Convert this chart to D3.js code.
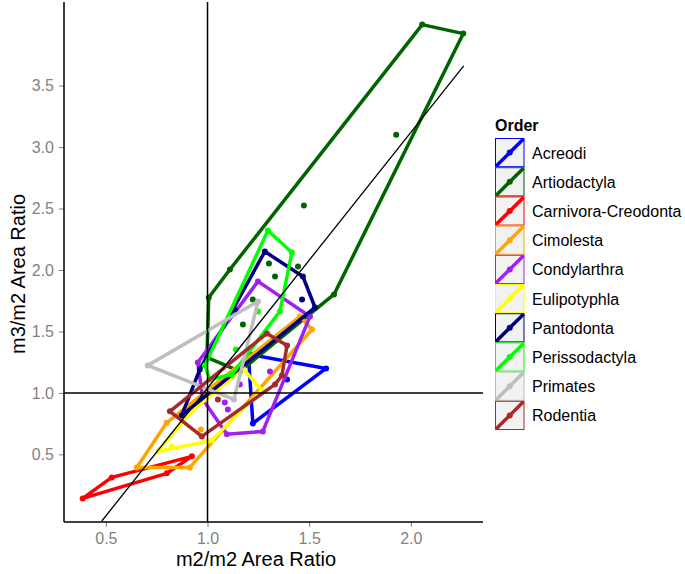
<!DOCTYPE html>
<html>
<head>
<meta charset="utf-8">
<script src="https://cdnjs.cloudflare.com/ajax/libs/d3/7.8.5/d3.min.js"></script>
<style>
  body { margin: 0; background: #fff; }
  svg { font-family: "Liberation Sans", Arial, sans-serif; }
  .tick text { fill: #828282; font-size: 16px; }
  .tick line { stroke: #828282; }
</style>
</head>
<body>
<div id="graf"></div>
<script>
// Data
const orders = ["Acreodi", "Artiodactyla", "Carnivora-Creodonta", "Cimolesta", "Condylarthra",
  "Eulipotyphla", "Pantodonta", "Perissodactyla", "Primates", "Rodentia"]
const colores = ["#0000ff", "#006400", "#ff0000", "#ffa500", "#a020f0",
  "#ffff00", "#000080", "#00ff00", "#bebebe", "#a52a2a"]

// m2/m2 (x), m3/m2 (y) per order
const acreodi = [[1.208, 1.313], [1.583, 1.199], [1.223, 0.752], [1.203, 1.256], [1.391, 1.110]]
const artiodactyla = [[0.997, 1.289], [1.006, 1.776], [1.110, 2.004], [2.056, 3.996], [2.258, 3.923],
  [1.622, 1.801], [1.159, 1.175], [1.928, 3.101], [1.474, 2.524], [1.302, 2.053], [1.445, 2.028],
  [1.332, 1.947], [1.223, 1.760], [1.174, 1.557]]
const carnivora = [[0.386, 0.142], [0.529, 0.313], [0.923, 0.484], [0.800, 0.346]]
const cimolesta = [[0.652, 0.394], [0.913, 0.394], [1.514, 1.516], [1.455, 1.622], [0.799, 0.757], [0.967, 0.703]]
const condylarthra = [[1.248, 1.907], [1.504, 1.622], [1.272, 0.687], [1.095, 0.663], [0.977, 0.947],
  [0.952, 1.248], [1.307, 1.175], [1.085, 0.923], [1.100, 0.866], [1.159, 1.069]]
const eulipotyphla = [[0.755, 0.524], [1.021, 0.614], [1.267, 1.020], [1.174, 1.199], [0.923, 0.850], [0.824, 0.565]]
const pantodonta = [[1.282, 2.150], [1.469, 1.947], [1.529, 1.695], [0.873, 0.817], [0.962, 1.191],
  [1.134, 1.679], [1.465, 1.760]]
const perissodactyla = [[1.297, 2.321], [1.415, 2.142], [1.356, 1.663], [1.120, 1.150], [1.011, 1.110],
  [0.987, 1.224], [1.139, 1.354], [1.248, 1.663]]
const primates = [[0.706, 1.224], [1.248, 1.744], [1.130, 0.947]]
const rodentia = [[0.815, 0.850], [0.972, 0.646], [1.332, 1.069], [1.366, 1.142], [1.391, 1.386],
  [1.292, 1.484], [1.051, 0.947]]

const puntos = [acreodi, artiodactyla, carnivora, cimolesta, condylarthra,
  eulipotyphla, pantodonta, perissodactyla, primates, rodentia]

const xTicks = [0.5, 1.0, 1.5, 2.0]
const yTicks = [0.5, 1.0, 1.5, 2.0, 2.5, 3.0, 3.5]
const tendencia = [[0.48, -0.042], [2.26, 3.66]]

const anchoTotal = 685
const altoTotal = 574
const margins = { left: 64, top: 2, right: 202, bottom: 52 }
const ancho = anchoTotal - margins.left - margins.right
const alto = altoTotal - margins.top - margins.bottom

const svg = d3.select("#graf").append("svg")
  .attr("width", anchoTotal)
  .attr("height", altoTotal)

const g = svg.append("g").attr("transform", `translate(${margins.left}, ${margins.top})`)

// Escaladores
const x = d3.scaleLinear().domain([0.294, 2.355]).range([0, ancho])
const y = d3.scaleLinear().domain([-0.05, 4.18]).range([alto, 0])

svg.append("defs").append("clipPath").attr("id", "panel")
  .append("rect").attr("width", ancho).attr("height", alto)

// Ejes
g.append("g")
  .attr("transform", `translate(0, ${alto})`)
  .call(d3.axisBottom(x).tickValues(xTicks).tickFormat(d3.format(".1f")).tickSize(5).tickPadding(6))
  .call((s) => s.select(".domain").remove())

g.append("g")
  .call(d3.axisLeft(y).tickValues(yTicks).tickFormat(d3.format(".1f")).tickSize(5).tickPadding(5))
  .call((s) => s.select(".domain").remove())

g.append("line").attr("x1", 0).attr("x2", ancho).attr("y1", alto).attr("y2", alto)
  .attr("stroke", "#000").attr("stroke-width", 1.5)
g.append("line").attr("x1", 0).attr("x2", 0).attr("y1", 0).attr("y2", alto)
  .attr("stroke", "#000").attr("stroke-width", 1.5)

// Poligonos
const capa = g.append("g").attr("clip-path", "url(#panel)")
const linea = d3.line().x((d) => x(d[0])).y((d) => y(d[1]))

puntos.forEach((pts, i) => {
  const hull = d3.polygonHull(pts)
  capa.append("path")
    .attr("d", linea(hull) + "Z")
    .attr("fill", "none")
    .attr("stroke", colores[i])
    .attr("stroke-width", 3.5)
    .attr("stroke-linejoin", "round")
  capa.selectAll(null).data(pts).join("circle")
    .attr("cx", (d) => x(d[0]))
    .attr("cy", (d) => y(d[1]))
    .attr("r", 3)
    .attr("fill", colores[i])
})

// Lineas de referencia
capa.append("line").attr("x1", x(1)).attr("x2", x(1)).attr("y1", 0).attr("y2", alto)
  .attr("stroke", "#000").attr("stroke-width", 1.5)
capa.append("line").attr("x1", 0).attr("x2", ancho).attr("y1", y(1)).attr("y2", y(1))
  .attr("stroke", "#000").attr("stroke-width", 1.5)
capa.append("path").attr("d", linea(tendencia))
  .attr("stroke", "#000").attr("stroke-width", 1.3).attr("fill", "none")

// Titulos
svg.append("text")
  .attr("x", 256)
  .attr("y", 566)
  .attr("text-anchor", "middle")
  .attr("font-size", 20)
  .text("m2/m2 Area Ratio")

svg.append("text")
  .attr("transform", "translate(25, 274) rotate(-90)")
  .attr("text-anchor", "middle")
  .attr("font-size", 20)
  .text("m3/m2 Area Ratio")

// Leyenda
const ley = svg.append("g").attr("transform", "translate(495, 138)")
const key = 29.2
ley.append("text").attr("x", 0).attr("y", -7).attr("font-size", 16).attr("font-weight", "bold").text("Order")

const items = ley.selectAll("g.item").data(orders).join("g")
  .attr("class", "item")
  .attr("transform", (d, i) => `translate(0, ${i * key})`)

items.append("rect")
  .attr("x", 0.5).attr("y", 0.5).attr("width", 28.5).attr("height", key - 1)
  .attr("fill", "#f2f2f2")
  .attr("stroke", (d, i) => colores[i])
items.append("line")
  .attr("x1", 1).attr("y1", key - 1).attr("x2", 28.5).attr("y2", 1)
  .attr("stroke", (d, i) => colores[i])
  .attr("stroke-width", 3.5)
items.append("circle")
  .attr("cx", 14.75).attr("cy", key / 2).attr("r", 3)
  .attr("fill", (d, i) => colores[i])
items.append("text")
  .attr("x", 37).attr("y", key / 2 + 6)
  .attr("font-size", 16)
  .text((d) => d)
</script>
</body>
</html>
